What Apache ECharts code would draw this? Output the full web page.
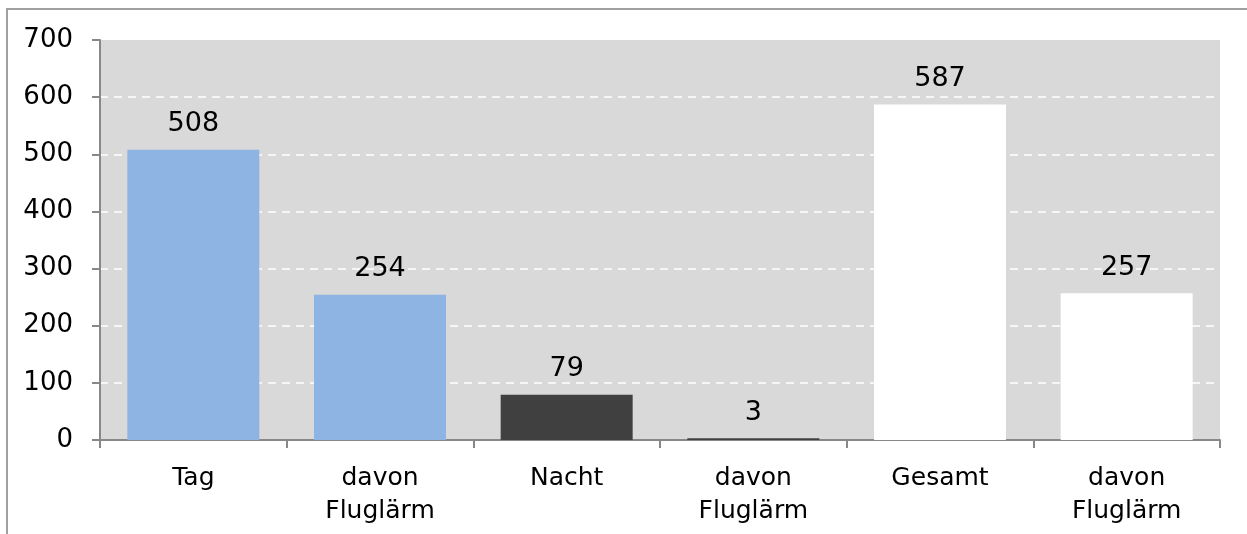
<!DOCTYPE html>
<html>
<head>
<meta charset="utf-8">
<script src="https://cdn.jsdelivr.net/npm/echarts@6/dist/echarts.min.js"></script>
<style>
  html, body { margin: 0; padding: 0; background: #fff; }
  #chart { width: 1247px; height: 534px; }
</style>
</head>
<body>
<div id="chart"></div>
<script>
var categories = ['Tag', 'davon\nFluglärm', 'Nacht', 'davon\nFluglärm', 'Gesamt', 'davon\nFluglärm'];
var values = [508, 254, 79, 3, 587, 257];
var barColors = ['#8eb4e3', '#8eb4e3', '#404040', '#404040', '#ffffff', '#ffffff'];
var yTicks = { min: 0, max: 700, interval: 100 };

var myChart = echarts.init(document.getElementById('chart'));

var option = {
    animation: false,
    textStyle: { fontFamily: 'DejaVu Sans' },
    // outer frame (only top and left visible in the picture)
    graphic: [{
        type: 'rect',
        shape: { x: 7, y: 9, width: 1300, height: 600 },
        style: { fill: 'none', stroke: '#a0a0a0', lineWidth: 2 },
        silent: true
    }],
    grid: {
        left: 100,
        right: 27,
        top: 40,
        bottom: 94,
        show: true,
        backgroundColor: '#d9d9d9',
        borderWidth: 0,
        containLabel: false
    },
    xAxis: {
        type: 'category',
        data: categories,
        axisLine: { lineStyle: { color: '#888888', width: 2 } },
        axisTick: { show: true, length: 8, lineStyle: { color: '#888888', width: 2 } },
        axisLabel: {
            color: '#000',
            fontSize: 25,
            lineHeight: 33,
            margin: 22,
            interval: 0
        }
    },
    yAxis: {
        type: 'value',
        min: yTicks.min,
        max: yTicks.max,
        interval: yTicks.interval,
        axisLine: { show: true, lineStyle: { color: '#888888', width: 2 } },
        axisTick: { show: true, length: 8, lineStyle: { color: '#888888', width: 2 } },
        axisLabel: { color: '#000', fontSize: 26, margin: 27 },
        splitLine: {
            show: true,
            showMaxLine: false,
            lineStyle: { color: '#ffffff', type: [8, 6], width: 1.5 }
        }
    },
    series: [{
        type: 'bar',
        barWidth: 132,
        data: values.map(function(v, i) {
            return { value: v, itemStyle: { color: barColors[i] } };
        }),
        label: {
            show: true,
            position: 'top',
            distance: 12,
            color: '#000',
            fontSize: 27
        }
    }]
};

myChart.setOption(option);
</script>
</body>
</html>
